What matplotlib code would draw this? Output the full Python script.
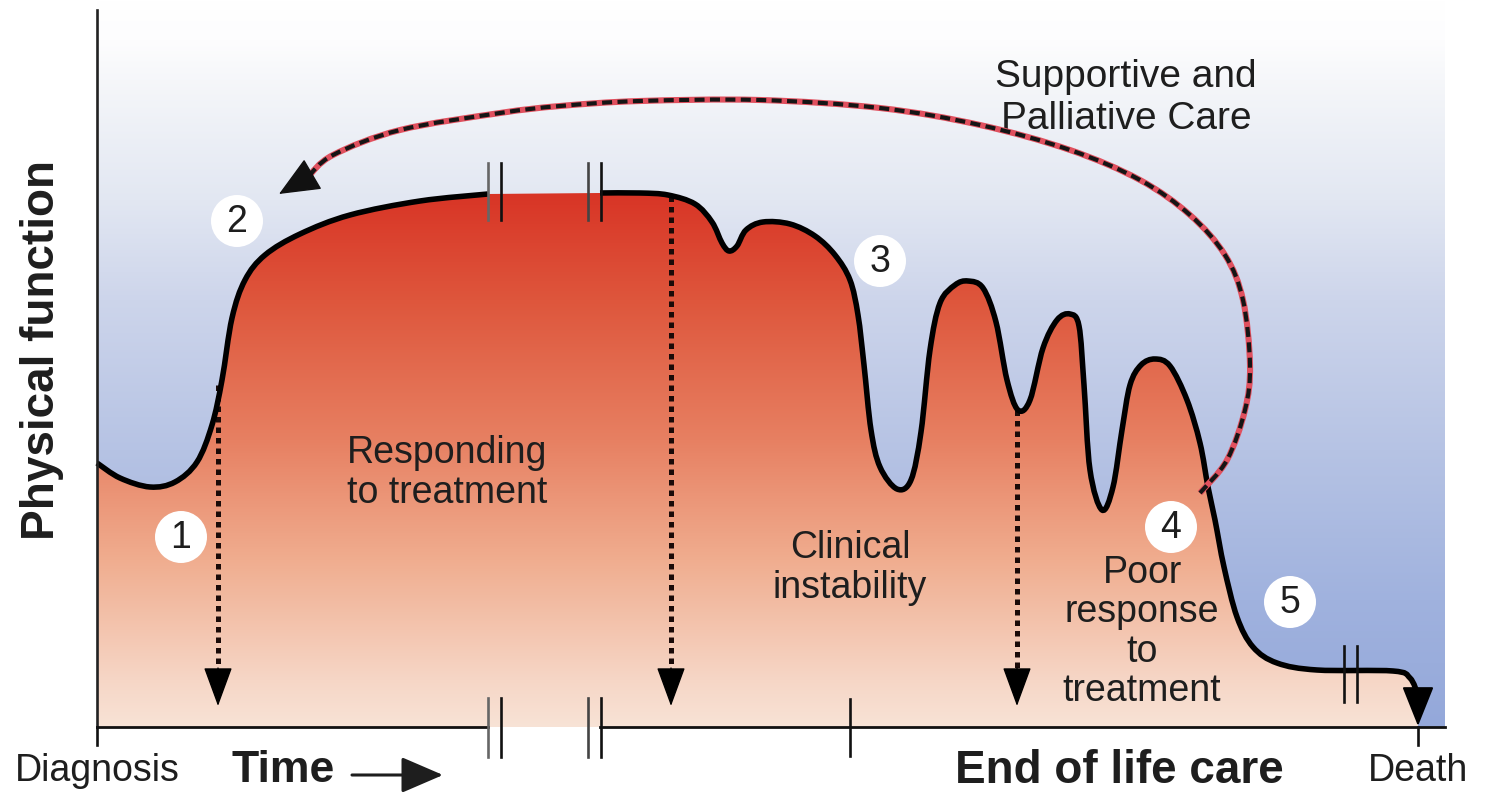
import numpy as np
import matplotlib
matplotlib.use("Agg")
import matplotlib.pyplot as plt
from matplotlib.path import Path
from matplotlib.patches import PathPatch, Circle

# ---------------- data (image-space units: x = time, y = downward position) -------------
# physical-function curve before the axis break
seg_a_x = [97, 120, 150, 175, 197, 212, 222, 232, 245, 265, 300, 350, 420, 488]
seg_a_y = [463, 478, 487, 482, 462, 425, 380, 318, 280, 255, 234, 215, 201, 194]
# curve after the break
seg_b_x = [600, 640, 668, 695, 712, 722, 729, 737, 746, 763, 790, 815, 835, 850, 858,
           864, 871, 880, 897, 911, 921, 930, 940, 955, 968, 983, 996, 1007, 1018, 1030,
           1043, 1057, 1070, 1079, 1084, 1090, 1102, 1113, 1122, 1130, 1141, 1155, 1170,
           1187, 1200, 1208, 1215, 1224, 1237, 1253, 1277, 1317, 1393, 1410, 1418]
seg_b_y = [193, 193, 195, 204, 222, 243, 251, 246, 230, 222, 224, 236, 255, 280, 315,
           365, 430, 467, 489, 480, 432, 350, 303, 285, 281, 288, 322, 380, 410, 400,
           348, 320, 314, 326, 385, 470, 510, 487, 430, 385, 365, 359, 366,
           400, 443, 487, 520, 567, 617, 647, 663, 670, 671, 678, 695]
# supportive & palliative care loop arrow
arc_x = [1200, 1227, 1245, 1250, 1243, 1225, 1190, 1140, 1070, 980, 880, 760, 640, 560,
         500, 400, 333, 308]
arc_y = [493, 460, 410, 365, 300, 255, 215, 180, 150, 125, 108, 100, 101, 106,
         113, 130, 155, 177]
# dotted transition arrows: x, start y
drop_x = [218, 671, 1017]
drop_y0 = [385, 196, 410]
# numbered markers
num_labels = ["1", "2", "3", "4", "5"]
num_x = [181, 237, 880, 1171, 1290]
num_y = [537, 221, 261, 527, 602]
# axis tick positions
diag_x, phase_x, death_x = 97, 850, 1418

W, H = 1487, 793
AXIS_Y = 727
X_END = 1445
FONT = "Liberation Sans"
TXT = "#1e1e1e"

fig = plt.figure(figsize=(W / 100, H / 100), dpi=100)
ax = fig.add_axes([0, 0, 1, 1])
ax.set_xlim(0, W)
ax.set_ylim(H, 0)
ax.axis("off")


def smooth(xs, ys):
    P = np.column_stack([xs, ys]).astype(float)
    n = len(P)
    verts = [P[0]]
    codes = [Path.MOVETO]
    for i in range(n - 1):
        p0 = P[i - 1] if i > 0 else P[i]
        p1, p2 = P[i], P[i + 1]
        p3 = P[i + 2] if i + 2 < n else P[i + 1]
        verts += [p1 + (p2 - p0) / 6, p2 - (p3 - p1) / 6, p2]
        codes += [Path.CURVE4] * 3
    return verts, codes


def gradient(stops_y, stops_rgb, y0, y1, n=600):
    ys = np.linspace(y0, y1, n)
    cols = np.array(stops_rgb, dtype=float) / 255
    img = np.stack([np.interp(ys, stops_y, cols[:, k]) for k in range(3)], axis=-1)
    return img[:, None, :]


# background gradient
bg = gradient([0, 40, 100, 200, 300, 450, 600, AXIS_Y],
              [(255, 255, 255), (253, 253, 254), (242, 244, 248), (226, 231, 242),
               (205, 213, 235), (182, 195, 228), (160, 178, 222), (148, 168, 218)],
              0, AXIS_Y)
ax.imshow(bg, extent=[diag_x, X_END, AXIS_Y, 0], aspect="auto", interpolation="bilinear", zorder=0)

# fill under curve
va, ca = smooth(seg_a_x, seg_a_y)
vb, cb = smooth(seg_b_x, seg_b_y)
fverts = va + vb + [(death_x, AXIS_Y), (diag_x, AXIS_Y), (diag_x, AXIS_Y)]
fcodes = ca + [Path.LINETO] + cb[1:] + [Path.LINETO, Path.LINETO, Path.CLOSEPOLY]
fill_patch = PathPatch(Path(fverts, fcodes), fc="none", ec="none")
ax.add_patch(fill_patch)
fg = gradient([185, 300, 440, 560, 680, AXIS_Y],
              [(216, 50, 36), (222, 86, 60), (231, 128, 98), (240, 173, 143),
               (246, 214, 198), (248, 227, 214)], 185, AXIS_Y)
im = ax.imshow(fg, extent=[diag_x, death_x + 5, AXIS_Y, 185], aspect="auto",
               interpolation="bilinear", zorder=1)
im.set_clip_path(fill_patch)

# curve strokes
for v, c in [(va, ca), (vb, cb)]:
    ax.add_patch(PathPatch(Path(v, c), fc="none", ec="black", lw=4.0,
                           capstyle="butt", joinstyle="round", zorder=4))
# death arrowhead
ax.annotate("", xy=(death_x, AXIS_Y - 1), xytext=(death_x, 692),
            arrowprops=dict(arrowstyle="-|>,head_length=0.6,head_width=0.24",
                            mutation_scale=42, lw=1.5, color="black",
                            shrinkA=0, shrinkB=0), zorder=5)

# dotted drop arrows
for x, y0 in zip(drop_x, drop_y0):
    ax.plot([x, x], [y0, 672], color="#1a0a08", lw=3.6, dashes=(1.1, 1.0), zorder=3,
            solid_capstyle="butt", dash_capstyle="butt")
    ax.annotate("", xy=(x, 706), xytext=(x, 668),
                arrowprops=dict(arrowstyle="-|>,head_length=0.6,head_width=0.22",
                                mutation_scale=42, lw=1, color="black",
                                shrinkA=0, shrinkB=0), zorder=3)

# axes lines
ax.plot([diag_x, diag_x], [10, AXIS_Y], color="#222", lw=1.9, zorder=5)
ax.plot([diag_x, 488], [AXIS_Y, AXIS_Y], color="#111", lw=2.0, zorder=5)
ax.plot([600, X_END], [AXIS_Y, AXIS_Y], color="#111", lw=2.0, zorder=5)
for bx, col in [(488, "#666"), (501, "#111"), (588, "#444"), (601, "#111")]:
    ax.plot([bx, bx], [698, 757], color=col, lw=1.9, zorder=5)
    ax.plot([bx, bx], [163, 220], color=col, lw=1.9, zorder=5)
for bx in [1344, 1357]:
    ax.plot([bx, bx], [646, 702], color="#111", lw=1.9, zorder=5)
ax.plot([diag_x, diag_x], [AXIS_Y, 745], color="#111", lw=1.9, zorder=5)
ax.plot([phase_x, phase_x], [699, 756], color="#111", lw=1.9, zorder=5)
ax.plot([death_x, death_x], [AXIS_Y, 745], color="#111", lw=1.9, zorder=5)

# palliative care loop arrow
av, ac = smooth(arc_x, arc_y)
ax.add_patch(PathPatch(Path(av, ac), fc="none", ec="#e0505e", lw=4.4, zorder=6))
ax.add_patch(PathPatch(Path(av, ac), fc="none", ec="#151515", lw=3.0,
                       linestyle=(0, (2.4, 1.3)), zorder=6))
ax.annotate("", xy=(279, 194), xytext=(arc_x[-1], arc_y[-1]),
            arrowprops=dict(arrowstyle="-|>,head_length=0.6,head_width=0.26",
                            mutation_scale=44, lw=1, color="#111",
                            shrinkA=0, shrinkB=0), zorder=6)

# numbered circles
for lab, x, y in zip(num_labels, num_x, num_y):
    ax.add_patch(Circle((x, y), 26, fc="white", ec="none", zorder=7))
    ax.text(x, y + 1, lab, ha="center", va="center", fontsize=27, family=FONT,
            color=TXT, zorder=8)

# texts
ax.text(42, 350, "Physical function", rotation=90, ha="center", va="center",
        fontsize=33, fontweight="bold", family=FONT, color=TXT)
ax.text(diag_x, 771, "Diagnosis", ha="center", va="center", fontsize=27, family=FONT, color=TXT)
ax.text(232, 771, "Time", ha="left", va="center", fontsize=32, fontweight="bold",
        family=FONT, color=TXT)
ax.annotate("", xy=(443, 775), xytext=(352, 775),
            arrowprops=dict(arrowstyle="-|>,head_length=0.65,head_width=0.28",
                            mutation_scale=40, lw=2.2, color=TXT, shrinkA=0, shrinkB=0))
ax.text(1119, 771, "End of life care", ha="center", va="center", fontsize=33,
        fontweight="bold", family=FONT, color=TXT)
ax.text(death_x, 771, "Death", ha="center", va="center", fontsize=27, family=FONT, color=TXT)
ax.text(1126, 98, "Supportive and\nPalliative Care", ha="center", va="center",
        fontsize=28, family=FONT, color=TXT, linespacing=1.2)
ax.text(447, 473, "Responding\nto treatment", ha="center", va="center",
        fontsize=27, family=FONT, color=TXT, linespacing=1.17, zorder=3)
ax.text(850, 568, "Clinical\ninstability", ha="center", va="center",
        fontsize=27, family=FONT, color=TXT, linespacing=1.17, zorder=3)
ax.text(1142, 632, "Poor\nresponse\nto\ntreatment", ha="center", va="center",
        fontsize=27, family=FONT, color=TXT, linespacing=1.12, zorder=3)

ax.set_xlim(0, W)
ax.set_ylim(H, 0)
fig.savefig("out.png", dpi=100)
